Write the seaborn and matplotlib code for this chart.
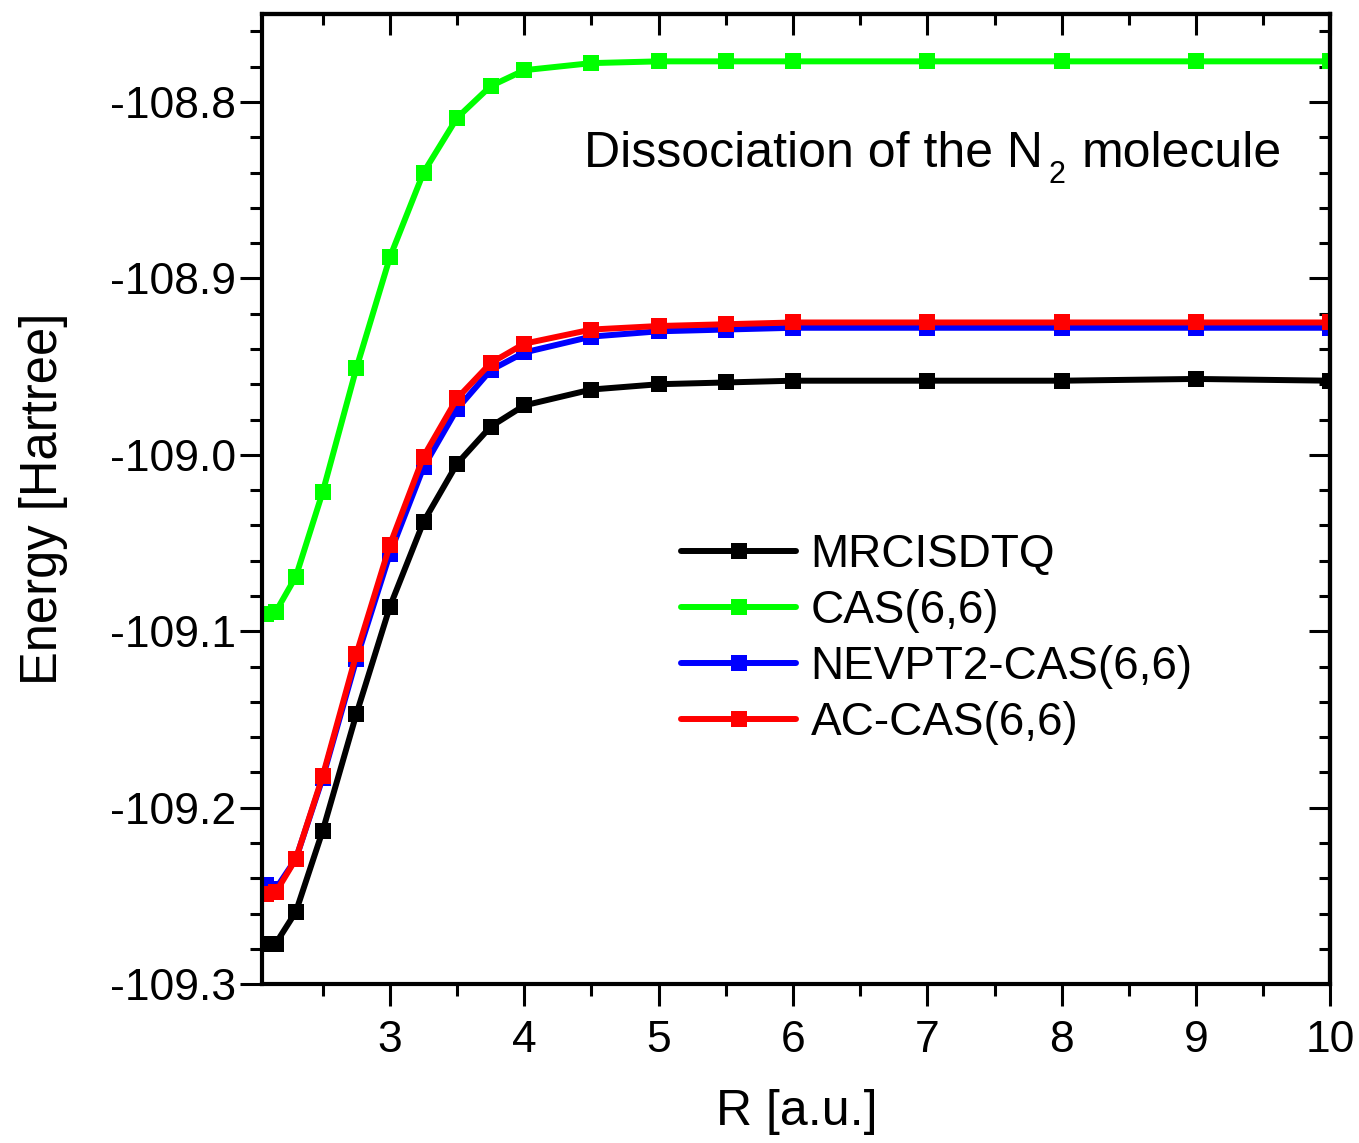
import matplotlib
matplotlib.use("Agg")
import matplotlib.pyplot as plt
from matplotlib.ticker import MultipleLocator, NullFormatter
from matplotlib.transforms import offset_copy
import seaborn as sns
import pandas as pd

R = [2.08, 2.15, 2.3, 2.5, 2.75, 3.0, 3.25, 3.5, 3.75, 4.0, 4.5, 5.0, 5.5, 6.0, 7.0, 8.0, 9.0, 10.0]
mrci = [-109.277, -109.277, -109.259, -109.213, -109.147, -109.086, -109.038, -109.005, -108.984,
        -108.972, -108.963, -108.960, -108.959, -108.958, -108.958, -108.958, -108.957, -108.958]
cas = [-109.090, -109.089, -109.069, -109.021, -108.951, -108.888, -108.840, -108.809, -108.791,
       -108.782, -108.778, -108.777, -108.777, -108.777, -108.777, -108.777, -108.777, -108.777]
nevpt2 = [-109.244, -109.246, -109.229, -109.183, -109.116, -109.056, -109.007, -108.974, -108.952,
          -108.942, -108.933, -108.930, -108.929, -108.928, -108.928, -108.928, -108.928, -108.928]
accas = [-109.249, -109.248, -109.229, -109.182, -109.113, -109.051, -109.001, -108.968, -108.948,
         -108.937, -108.929, -108.927, -108.926, -108.925, -108.925, -108.925, -108.925, -108.925]

labels = ["MRCISDTQ", "CAS(6,6)", "NEVPT2-CAS(6,6)", "AC-CAS(6,6)"]
series = [mrci, cas, nevpt2, accas]
colors = ["#000000", "#00ff00", "#0000ff", "#ff0000"]

sns.set_theme(style="ticks")
plt.rcParams["font.family"] = ["Liberation Sans", "DejaVu Sans"]
plt.rcParams["text.color"] = "black"
plt.rcParams["axes.labelcolor"] = "black"
plt.rcParams["xtick.color"] = "black"
plt.rcParams["ytick.color"] = "black"

rows = []
for lab, vals in zip(labels, series):
    for r, e in zip(R, vals):
        rows.append({"R": r, "E": e, "method": lab})
df = pd.DataFrame(rows)

fig = plt.figure(figsize=(13.59, 11.43), dpi=100)
ax = fig.add_axes([0.193, 0.139, 0.786, 0.849])

sns.lineplot(data=df, x="R", y="E", hue="method", hue_order=labels, palette=colors,
             marker="s", markersize=11, markeredgewidth=0, linewidth=4.3, ax=ax,
             sort=False, estimator=None)

ax.set_xlim(2.05, 10.0)
ax.set_ylim(-109.3, -108.75)
ax.set_xticks([3, 4, 5, 6, 7, 8, 9, 10])
ax.xaxis.set_minor_locator(MultipleLocator(0.5))
ax.set_yticks([-109.3, -109.2, -109.1, -109.0, -108.9, -108.8])
ax.set_yticklabels(["-109.3", "-109.2", "-109.1", "-109.0", "-108.9", "-108.8"])
ax.yaxis.set_minor_locator(MultipleLocator(0.02))

for sp in ax.spines.values():
    sp.set_linewidth(3)
    sp.set_color("black")

ax.tick_params(axis="both", which="major", direction="out", length=16, width=2.2,
               labelsize=32, colors="black", pad=3)
ax.tick_params(axis="both", which="minor", direction="out", length=8.5, width=2.2, colors="black")
ax.tick_params(axis="x", which="major", pad=10)

# mirrored inward ticks on top and right
top = ax.secondary_xaxis("top")
top.set_xticks([3, 4, 5, 6, 7, 8, 9, 10])
top.xaxis.set_minor_locator(MultipleLocator(0.5))
top.xaxis.set_major_formatter(NullFormatter())
top.tick_params(axis="x", which="major", direction="in", length=15, width=2.2, colors="black")
top.tick_params(axis="x", which="minor", direction="in", length=8, width=2.2, colors="black")
top.spines["top"].set_linewidth(3)

right = ax.secondary_yaxis("right")
right.set_yticks([-109.3, -109.2, -109.1, -109.0, -108.9, -108.8])
right.yaxis.set_minor_locator(MultipleLocator(0.02))
right.yaxis.set_major_formatter(NullFormatter())
right.tick_params(axis="y", which="major", direction="in", length=15, width=2.2, colors="black")
right.tick_params(axis="y", which="minor", direction="in", length=8, width=2.2, colors="black")
right.spines["right"].set_linewidth(3)

ax.set_xlabel("R [a.u.]", fontsize=36, labelpad=20, color="black")
ax.set_ylabel("Energy [Hartree]", fontsize=36.5, labelpad=30, color="black")

# title with a lowered subscript
t1 = ax.text(0.301, 0.842, "Dissociation of the N", transform=ax.transAxes,
             fontsize=36, ha="left", va="baseline", color="black")
fig.canvas.draw()
rend = fig.canvas.get_renderer()
w1 = t1.get_window_extent(rend).width  # pixels
tr_sub = offset_copy(ax.transAxes, fig=fig, x=(w1 + 6) * 72 / fig.dpi, y=-16 * 72 / fig.dpi, units="points")
t2 = ax.text(0.301, 0.842, "2", transform=tr_sub, fontsize=22, ha="left", va="baseline", color="black")
fig.canvas.draw()
w2 = t2.get_window_extent(rend).width
tr_rest = offset_copy(ax.transAxes, fig=fig, x=(w1 + 6 + w2 + 16) * 72 / fig.dpi, y=0, units="points")
ax.text(0.301, 0.842, "molecule", transform=tr_rest, fontsize=36, ha="left", va="baseline", color="black")

handles, labs = ax.get_legend_handles_labels()
leg = ax.legend(handles, labs, loc="upper left", bbox_to_anchor=(0.371, 0.488),
                frameon=False, fontsize=33, handlelength=2.5, handletextpad=0.32,
                labelspacing=0.26, borderpad=0)
for h in leg.legend_handles:
    h.set_linewidth(4.3)
for t in leg.get_texts():
    t.set_color("black")

fig.savefig("out.png", dpi=100)
